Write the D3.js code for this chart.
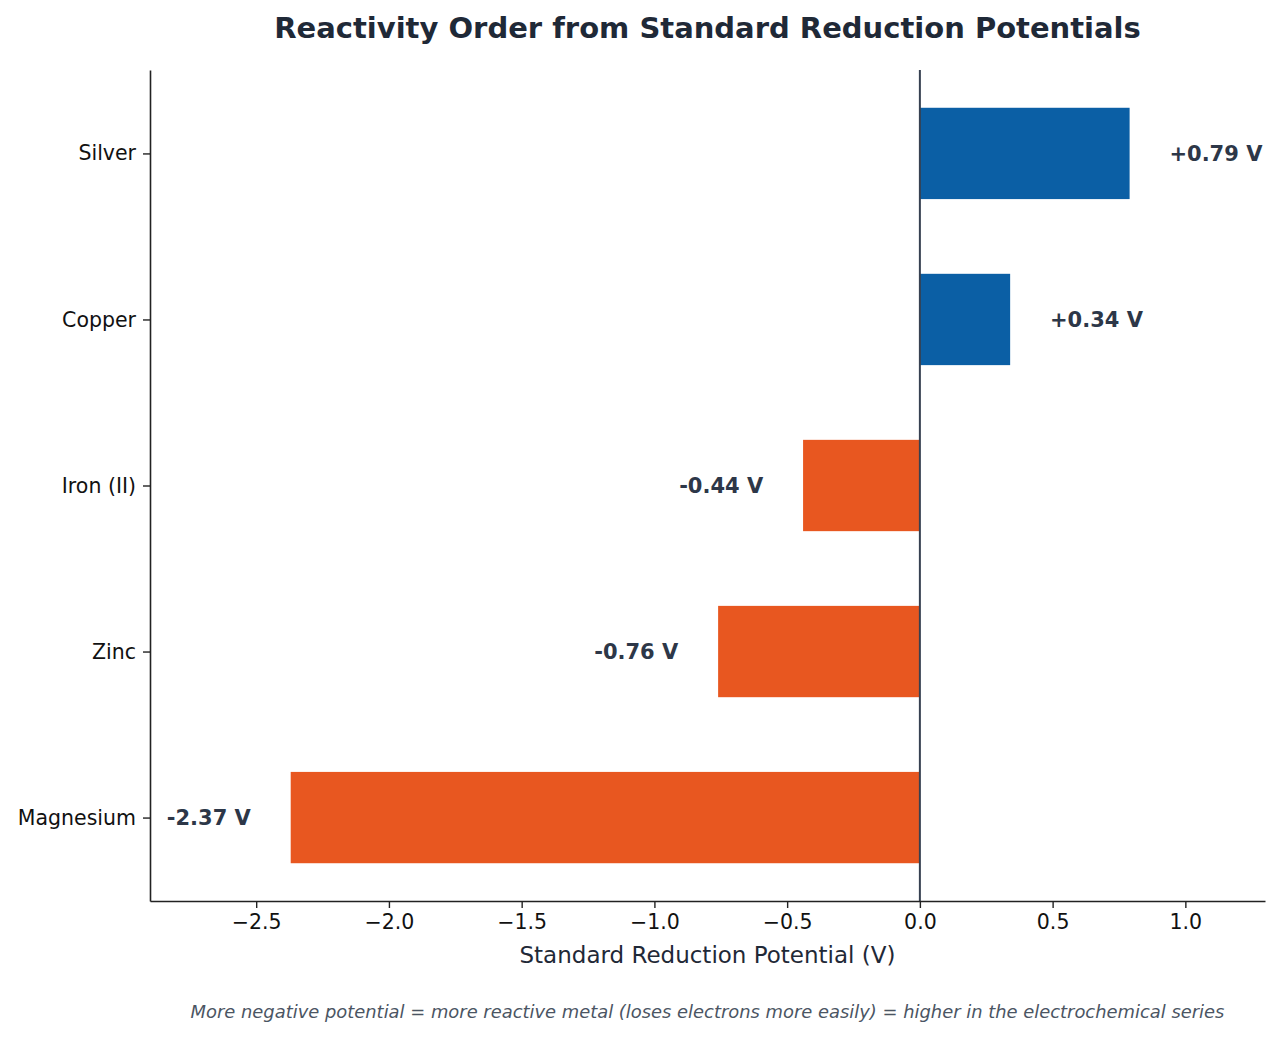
<!DOCTYPE html>
<html>
<head>
<meta charset="utf-8">
<script src="https://cdn.jsdelivr.net/npm/d3@7"></script>
<style>
  body { margin: 0; background: #fff; }
  svg { display: block; font-family: "DejaVu Sans", sans-serif; }
</style>
</head>
<body>
<svg id="chart" width="1280" height="1037"></svg>
<script>
// data, bottom to top as drawn
const metals = ['Magnesium', 'Zinc', 'Iron (II)', 'Copper', 'Silver']
const potentials = [-2.37, -0.76, -0.44, 0.34, 0.79]
const xTicks = [-2.5, -2.0, -1.5, -1.0, -0.5, 0.0, 0.5, 1.0]

const margin = { top: 70, right: 15, bottom: 136, left: 150 }
const width = 1280 - margin.left - margin.right
const height = 1037 - margin.top - margin.bottom

const svg = d3.select('#chart')
const g = svg.append('g')
  .attr('transform', `translate(${margin.left},${margin.top})`)

const x = d3.scaleLinear()
  .domain([-2.9, 1.3])
  .range([0, width])

// bars sit on integer positions, height 0.55, with a 5% margin
const y = d3.scaleLinear()
  .domain([-0.5025, metals.length - 1 + 0.5025])
  .range([height, 0])

const barH = 0.55

// bars
g.selectAll('rect.bar')
  .data(potentials)
  .enter()
  .append('rect')
  .attr('class', 'bar')
  .attr('x', d => x(Math.min(0, d)))
  .attr('width', d => Math.abs(x(d) - x(0)))
  .attr('y', (d, i) => y(i + barH / 2))
  .attr('height', y(0) - y(barH))
  .attr('fill', d => d >= 0 ? '#0b5fa5' : '#e85720')

// zero line
g.append('line')
  .attr('x1', x(0)).attr('x2', x(0))
  .attr('y1', 0).attr('y2', height)
  .attr('stroke', '#374151')
  .attr('stroke-width', 2)

// value labels
g.selectAll('text.val')
  .data(potentials)
  .enter()
  .append('text')
  .attr('class', 'val')
  .attr('x', d => d >= 0 ? x(d + 0.15) : x(d - 0.15))
  .attr('y', (d, i) => y(i))
  .attr('dy', '0.35em')
  .attr('text-anchor', d => d >= 0 ? 'start' : 'end')
  .style('font-size', '21px')
  .style('font-weight', 'bold')
  .style('fill', '#2d3748')
  .text(d => (d >= 0 ? '+' : '') + d.toFixed(2) + ' V')

// x axis
const xAxis = g.append('g')
  .attr('transform', `translate(0,${height})`)
  .call(d3.axisBottom(x)
    .tickValues(xTicks)
    .tickFormat(d => d3.format('.1f')(d).replace('-', '\u2212'))
    .tickSize(7)
    .tickSizeOuter(0)
    .tickPadding(6))
xAxis.select('.domain').attr('stroke', '#222').attr('stroke-width', 1.6)
xAxis.selectAll('.tick line').attr('stroke', '#222').attr('stroke-width', 1.4)
xAxis.selectAll('.tick text')
  .style('font-size', '20.5px')
  .style('font-family', '"DejaVu Sans", sans-serif')
  .attr('fill', '#111')

// y axis
const yAxis = g.append('g')
  .call(d3.axisLeft(y)
    .tickValues(d3.range(metals.length))
    .tickFormat(i => metals[i])
    .tickSize(7)
    .tickSizeOuter(0)
    .tickPadding(7))
yAxis.select('.domain').attr('stroke', '#222').attr('stroke-width', 1.6)
yAxis.selectAll('.tick line').attr('stroke', '#222').attr('stroke-width', 1.4)
yAxis.selectAll('.tick text')
  .style('font-size', '20.5px')
  .style('font-family', '"DejaVu Sans", sans-serif')
  .attr('fill', '#111')

// title
svg.append('text')
  .attr('x', margin.left + width / 2)
  .attr('y', 28)
  .attr('dy', '0.35em')
  .attr('text-anchor', 'middle')
  .style('font-size', '29px')
  .style('font-weight', 'bold')
  .style('fill', '#1f2937')
  .text('Reactivity Order from Standard Reduction Potentials')

// x label
svg.append('text')
  .attr('x', margin.left + width / 2)
  .attr('y', 955)
  .attr('dy', '0.35em')
  .attr('text-anchor', 'middle')
  .style('font-size', '23px')
  .style('fill', '#1f2937')
  .text('Standard Reduction Potential (V)')

// footnote
svg.append('text')
  .attr('x', margin.left + width / 2)
  .attr('y', 1012)
  .attr('dy', '0.35em')
  .attr('text-anchor', 'middle')
  .style('font-size', '17.9px')
  .style('font-style', 'italic')
  .style('fill', '#4b5563')
  .text('More negative potential = more reactive metal (loses electrons more easily) = higher in the electrochemical series')
</script>
</body>
</html>
